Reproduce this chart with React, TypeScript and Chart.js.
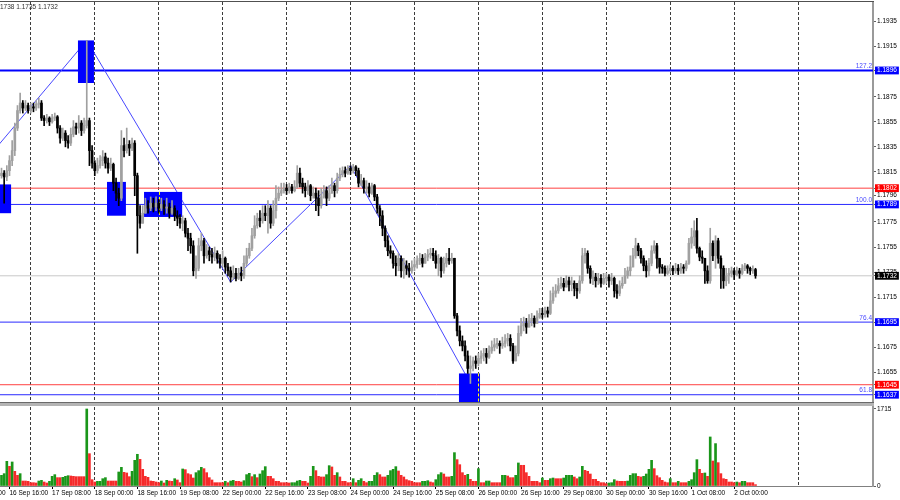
import React, { useEffect, useRef } from 'react';
import { Chart, registerables } from 'chart.js';

Chart.register(...registerables);

// ---------- data (H1 bars, index 0 = 16 Sep 13:00) ----------
const FIRST_OPEN = 1.1812;
const CLOSE = [
  1.1814, 1.1811, 1.1816, 1.1824, 1.1832, 1.1850, 1.1864, 1.1870, 1.1866, 1.1868,
  1.1864, 1.1867, 1.1866, 1.1869, 1.1870, 1.1858, 1.1856, 1.1858, 1.1855, 1.1858,
  1.1859, 1.1850, 1.1842, 1.1846, 1.1840, 1.1838, 1.1845, 1.1851, 1.1850, 1.1854,
  1.1848, 1.1852, 1.1856, 1.1832, 1.1822, 1.1816, 1.1820, 1.1824, 1.1827, 1.1822,
  1.1818, 1.1821, 1.1806, 1.1798, 1.1794, 1.1836, 1.1832, 1.1837, 1.1834, 1.1838,
  1.1812, 1.1780, 1.1774, 1.1782, 1.1788, 1.1786, 1.1790, 1.1787, 1.1790, 1.1786,
  1.1789, 1.1786, 1.1787, 1.1782, 1.1786, 1.1780, 1.1778, 1.1774, 1.1776, 1.1766,
  1.1762, 1.1756, 1.1736, 1.1738, 1.1756, 1.1760, 1.1748, 1.1752, 1.1749, 1.1747,
  1.1750, 1.1746, 1.1742, 1.1746, 1.1739, 1.1736, 1.1731, 1.1734, 1.1730, 1.1734,
  1.1732, 1.1742, 1.1748, 1.1754, 1.1764, 1.1772, 1.1778, 1.1776, 1.1782, 1.1780,
  1.1786, 1.1774, 1.1784, 1.1794, 1.1798, 1.1800, 1.1802, 1.1800, 1.1803, 1.1800,
  1.1803, 1.1814, 1.1806, 1.1803, 1.1800, 1.1804, 1.1796, 1.1798, 1.1794, 1.1788,
  1.1795, 1.1800, 1.1794, 1.1798, 1.1804, 1.1800, 1.1810, 1.1813, 1.1816, 1.1814,
  1.1818, 1.1816, 1.1819, 1.1816, 1.1806, 1.1808, 1.1802, 1.1803, 1.1798, 1.1804,
  1.1795, 1.1786, 1.1780, 1.1770, 1.1760, 1.1752, 1.1750, 1.1742, 1.1740, 1.1746,
  1.1736, 1.1740, 1.1738, 1.1736, 1.1739, 1.1741, 1.1744, 1.1746, 1.1742, 1.1747,
  1.1749, 1.1750, 1.1748, 1.1742, 1.1746, 1.1736, 1.1742, 1.1746, 1.1744, 1.1746,
  1.1700, 1.1688, 1.1680, 1.1676, 1.1668, 1.1658, 1.1660, 1.1664, 1.1662, 1.1666,
  1.1668, 1.1670, 1.1667, 1.1672, 1.1675, 1.1677, 1.1678, 1.1676, 1.1678, 1.1680,
  1.1682, 1.1676, 1.1664, 1.1670, 1.1686, 1.1692, 1.1694, 1.1691, 1.1696, 1.1698,
  1.1694, 1.1699, 1.1702, 1.1701, 1.1704, 1.1702, 1.1712, 1.1718, 1.1720, 1.1724,
  1.1726, 1.1723, 1.1728, 1.1725, 1.1726, 1.1722, 1.1720, 1.1728, 1.1748, 1.1750,
  1.1738, 1.1730, 1.1731, 1.1728, 1.1730, 1.1726, 1.1730, 1.1731, 1.1728, 1.1730,
  1.1720, 1.1718, 1.1724, 1.1726, 1.1732, 1.1736, 1.1739, 1.1748, 1.1756, 1.1752,
  1.1746, 1.1740, 1.1736, 1.1742, 1.1752, 1.1756, 1.1746, 1.1739, 1.1738, 1.1734,
  1.1736, 1.1738, 1.1736, 1.1738, 1.1736, 1.1739, 1.1738, 1.1742, 1.1758, 1.1763,
  1.1768, 1.1754, 1.1747, 1.1746, 1.1736, 1.1728, 1.1758, 1.1748, 1.1760, 1.1746,
  1.1738, 1.1728, 1.1732, 1.1734, 1.1736, 1.1733, 1.1736, 1.1734, 1.1738, 1.1740,
  1.1738, 1.1736, 1.1737, 1.1732,
];
const HIGH = [
  1.1818, 1.1816, 1.1820, 1.1828, 1.1840, 1.1854, 1.1868, 1.1878, 1.1872, 1.1872,
  1.1870, 1.1870, 1.1870, 1.1872, 1.1874, 1.1872, 1.1860, 1.1861, 1.1859, 1.1861,
  1.1862, 1.1860, 1.1852, 1.1850, 1.1848, 1.1844, 1.1850, 1.1856, 1.1854, 1.1860,
  1.1856, 1.1858, 1.1920, 1.1858, 1.1836, 1.1824, 1.1826, 1.1828, 1.1832, 1.1830,
  1.1826, 1.1826, 1.1822, 1.1810, 1.1802, 1.1848, 1.1842, 1.1850, 1.1840, 1.1842,
  1.1840, 1.1814, 1.1788, 1.1788, 1.1794, 1.1792, 1.1795, 1.1794, 1.1795, 1.1793,
  1.1794, 1.1792, 1.1794, 1.1790, 1.1792, 1.1788, 1.1784, 1.1781, 1.1780, 1.1778,
  1.1770, 1.1766, 1.1760, 1.1748, 1.1762, 1.1766, 1.1762, 1.1757, 1.1755, 1.1754,
  1.1755, 1.1752, 1.1749, 1.1752, 1.1747, 1.1742, 1.1739, 1.1740, 1.1738, 1.1738,
  1.1739, 1.1748, 1.1754, 1.1758, 1.1770, 1.1780, 1.1782, 1.1784, 1.1788, 1.1788,
  1.1792, 1.1788, 1.1792, 1.1804, 1.1803, 1.1806, 1.1806, 1.1805, 1.1806, 1.1805,
  1.1808, 1.1820, 1.1818, 1.1810, 1.1806, 1.1808, 1.1805, 1.1803, 1.1802, 1.1800,
  1.1802, 1.1804, 1.1803, 1.1804, 1.1810, 1.1806, 1.1814, 1.1818, 1.1819, 1.1819,
  1.1820, 1.1820, 1.1821, 1.1820, 1.1818, 1.1813, 1.1810, 1.1808, 1.1806, 1.1806,
  1.1805, 1.1797, 1.1788, 1.1784, 1.1772, 1.1764, 1.1756, 1.1752, 1.1748, 1.1750,
  1.1748, 1.1746, 1.1744, 1.1742, 1.1744, 1.1746, 1.1748, 1.1750, 1.1749, 1.1750,
  1.1753, 1.1754, 1.1754, 1.1752, 1.1749, 1.1747, 1.1747, 1.1750, 1.1754, 1.1750,
  1.1746, 1.1702, 1.1692, 1.1684, 1.1680, 1.1672, 1.1668, 1.1667, 1.1668, 1.1670,
  1.1672, 1.1674, 1.1674, 1.1676, 1.1680, 1.1682, 1.1682, 1.1680, 1.1683, 1.1685,
  1.1686, 1.1685, 1.1678, 1.1676, 1.1692, 1.1698, 1.1699, 1.1698, 1.1701, 1.1702,
  1.1700, 1.1704, 1.1706, 1.1706, 1.1707, 1.1707, 1.1720, 1.1723, 1.1725, 1.1730,
  1.1731, 1.1730, 1.1732, 1.1731, 1.1731, 1.1728, 1.1726, 1.1732, 1.1754, 1.1754,
  1.1752, 1.1740, 1.1736, 1.1734, 1.1734, 1.1733, 1.1734, 1.1734, 1.1733, 1.1734,
  1.1731, 1.1725, 1.1728, 1.1731, 1.1738, 1.1739, 1.1748, 1.1754, 1.1762, 1.1758,
  1.1754, 1.1748, 1.1744, 1.1746, 1.1756, 1.1760, 1.1758, 1.1744, 1.1741, 1.1740,
  1.1740, 1.1741, 1.1740, 1.1742, 1.1741, 1.1742, 1.1741, 1.1744, 1.1762, 1.1770,
  1.1776, 1.1778, 1.1755, 1.1752, 1.1746, 1.1740, 1.1770, 1.1760, 1.1764, 1.1762,
  1.1748, 1.1740, 1.1738, 1.1738, 1.1739, 1.1738, 1.1739, 1.1738, 1.1741, 1.1742,
  1.1741, 1.1739, 1.1740, 1.1738,
];
const LOW = [
  1.1810, 1.1790, 1.1808, 1.1812, 1.1820, 1.1828, 1.1848, 1.1862, 1.1862, 1.1864,
  1.1862, 1.1862, 1.1863, 1.1864, 1.1866, 1.1856, 1.1852, 1.1854, 1.1852, 1.1854,
  1.1856, 1.1846, 1.1838, 1.1840, 1.1835, 1.1834, 1.1836, 1.1843, 1.1845, 1.1846,
  1.1844, 1.1846, 1.1850, 1.1820, 1.1818, 1.1812, 1.1814, 1.1818, 1.1820, 1.1818,
  1.1814, 1.1816, 1.1800, 1.1792, 1.1788, 1.1792, 1.1827, 1.1830, 1.1828, 1.1832,
  1.1796, 1.1750, 1.1770, 1.1776, 1.1782, 1.1782, 1.1784, 1.1783, 1.1784, 1.1782,
  1.1784, 1.1781, 1.1782, 1.1778, 1.1781, 1.1776, 1.1772, 1.1770, 1.1768, 1.1763,
  1.1752, 1.1750, 1.1732, 1.1730, 1.1736, 1.1752, 1.1742, 1.1746, 1.1744, 1.1742,
  1.1744, 1.1742, 1.1738, 1.1739, 1.1734, 1.1732, 1.1727, 1.1729, 1.1728, 1.1729,
  1.1728, 1.1730, 1.1740, 1.1746, 1.1752, 1.1762, 1.1770, 1.1771, 1.1774, 1.1776,
  1.1766, 1.1770, 1.1772, 1.1778, 1.1792, 1.1796, 1.1798, 1.1797, 1.1798, 1.1798,
  1.1799, 1.1802, 1.1803, 1.1798, 1.1795, 1.1797, 1.1792, 1.1794, 1.1784, 1.1780,
  1.1786, 1.1794, 1.1788, 1.1792, 1.1798, 1.1795, 1.1798, 1.1808, 1.1811, 1.1811,
  1.1813, 1.1813, 1.1814, 1.1812, 1.1803, 1.1804, 1.1798, 1.1798, 1.1795, 1.1797,
  1.1792, 1.1782, 1.1772, 1.1764, 1.1755, 1.1748, 1.1746, 1.1738, 1.1732, 1.1736,
  1.1731, 1.1730, 1.1733, 1.1731, 1.1734, 1.1736, 1.1738, 1.1741, 1.1739, 1.1742,
  1.1744, 1.1746, 1.1744, 1.1738, 1.1732, 1.1731, 1.1734, 1.1739, 1.1741, 1.1742,
  1.1698, 1.1684, 1.1676, 1.1672, 1.1664, 1.1654, 1.1646, 1.1656, 1.1658, 1.1660,
  1.1662, 1.1664, 1.1662, 1.1666, 1.1670, 1.1672, 1.1674, 1.1670, 1.1674, 1.1675,
  1.1676, 1.1672, 1.1662, 1.1666, 1.1668, 1.1684, 1.1688, 1.1686, 1.1691, 1.1692,
  1.1691, 1.1694, 1.1698, 1.1698, 1.1699, 1.1699, 1.1701, 1.1710, 1.1715, 1.1718,
  1.1722, 1.1720, 1.1723, 1.1720, 1.1720, 1.1716, 1.1714, 1.1718, 1.1726, 1.1742,
  1.1734, 1.1726, 1.1725, 1.1723, 1.1725, 1.1723, 1.1725, 1.1726, 1.1723, 1.1725,
  1.1715, 1.1714, 1.1716, 1.1722, 1.1726, 1.1730, 1.1732, 1.1740, 1.1746, 1.1748,
  1.1742, 1.1736, 1.1731, 1.1732, 1.1740, 1.1750, 1.1738, 1.1734, 1.1734, 1.1732,
  1.1733, 1.1734, 1.1733, 1.1734, 1.1733, 1.1734, 1.1734, 1.1736, 1.1741, 1.1754,
  1.1756, 1.1750, 1.1744, 1.1742, 1.1726, 1.1726, 1.1726, 1.1744, 1.1738, 1.1742,
  1.1722, 1.1722, 1.1724, 1.1726, 1.1731, 1.1729, 1.1732, 1.1730, 1.1733, 1.1736,
  1.1734, 1.1733, 1.1734, 1.1730,
];
const VOLUME = [
  238, 275, 550, 438, 535, 327, 238, 275, 111, 111,
  104, 74, 74, 67, 111, 126, 89, 67, 104, 215,
  253, 186, 186, 193, 215, 230, 223, 215, 208, 208,
  208, 208, 1715, 720, 141, 89, 104, 104, 163, 186,
  111, 111, 111, 111, 312, 416, 305, 290, 208, 327,
  572, 706, 594, 371, 215, 193, 111, 104, 89, 74,
  111, 67, 126, 111, 104, 163, 134, 74, 379, 364,
  275, 253, 178, 297, 342, 416, 386, 297, 186, 134,
  74, 74, 74, 74, 104, 74, 111, 126, 104, 104,
  89, 119, 253, 282, 208, 253, 186, 267, 342, 431,
  215, 215, 163, 104, 104, 74, 74, 74, 67, 74,
  74, 111, 126, 104, 104, 67, 215, 438, 342, 215,
  201, 201, 253, 453, 424, 238, 297, 201, 104, 104,
  74, 74, 163, 74, 126, 163, 104, 74, 104, 104,
  238, 297, 253, 201, 201, 238, 342, 371, 431, 334,
  238, 201, 141, 119, 104, 74, 74, 74, 104, 104,
  119, 89, 74, 141, 253, 297, 267, 201, 201, 215,
  743, 587, 475, 297, 238, 260, 149, 104, 104, 386,
  74, 74, 111, 111, 74, 74, 74, 74, 238, 238,
  223, 186, 186, 238, 513, 461, 461, 297, 215, 104,
  104, 104, 74, 178, 126, 126, 163, 178, 163, 163,
  163, 178, 238, 238, 238, 201, 163, 201, 438, 349,
  327, 267, 149, 149, 104, 74, 74, 52, 67, 74,
  141, 111, 104, 104, 104, 110, 238, 275, 275, 215,
  201, 215, 267, 371, 572, 386, 230, 186, 126, 89,
  74, 163, 74, 74, 104, 74, 74, 74, 104, 141,
  297, 587, 371, 282, 290, 215, 1092, 557, 944, 520,
  275, 163, 149, 89, 89, 74, 89, 74, 104, 104,
  74, 74, 74, 30,
];

// time axis
const LABEL_BARS = [-13, 3, 19, 35, 51, 67, 83, 99, 115, 131, 147, 163, 179, 195, 211, 227, 243, 259, 275];
const LABEL_TEXT = [
  '16 Sep 00:00', '16 Sep 16:00', '17 Sep 08:00', '18 Sep 00:00', '18 Sep 16:00', '19 Sep 08:00',
  '22 Sep 00:00', '22 Sep 16:00', '23 Sep 08:00', '24 Sep 00:00', '24 Sep 16:00', '25 Sep 08:00',
  '26 Sep 00:00', '26 Sep 16:00', '29 Sep 08:00', '30 Sep 00:00', '30 Sep 16:00', '1 Oct 08:00', '2 Oct 00:00',
];
const DAY_BARS = [11, 35, 59, 83, 107, 131, 155, 179, 203, 227, 251, 275, 299];
const X_MIN = -0.563;
const X_MAX = 327.1;

// price axis
const PRICE_MIN = 1.16296;
const PRICE_MAX = 1.19507;
const PRICE_TICKS = [1.1935, 1.1915, 1.1875, 1.1855, 1.1835, 1.1815, 1.1796, 1.1775, 1.1755, 1.1735, 1.1715, 1.1675, 1.1655];
const TAG_VALUES = [1.1896, 1.1802, 1.1789, 1.1732, 1.1695, 1.1645, 1.1637];
const TAG_COLORS = ['#0000ff', '#ff0000', '#0000ff', '#000000', '#0000ff', '#ff0000', '#0000ff'];

// horizontal levels
const LEVELS = [1.1896, 1.1802, 1.1789, 1.1695, 1.1645, 1.1637];
const LEVEL_COLORS = ['#0000ff', '#ff4040', '#2a2aff', '#2a2aff', '#ff4040', '#2a2aff'];
const CURRENT_PRICE = 1.1732;
const FIB_LEVELS = [1.1896, 1.1789, 1.1695, 1.1637];
const FIB_TEXT = ['127.2', '100.0', '76.4', '61.8'];

// zigzag
const ZIGZAG_BARS = [-12, 32, 86, 131, 176];
const ZIGZAG_PRICES = [1.1809, 1.1920, 1.1727, 1.1820, 1.1646];

// rectangles
const BOX_START = [-0.6, 28.7, 39.6, 53.5, 171.7];
const BOX_END = [3.6, 34.7, 46.7, 67.8, 179.6];
const BOX_TOP = [1.1805, 1.1920, 1.1807, 1.1799, 1.1654];
const BOX_BOTTOM = [1.1782, 1.1886, 1.1780, 1.1779, 1.1600];

// volume axis
const VOL_MAX = 1826;
const VOL_TICKS = [0, 1715];

const HEADER = '1738 1.1735 1.1732';

// ---------- styles ----------
const FONT = "'Liberation Sans', Arial, sans-serif";
const FS = 6.5;
const BULL = '#a0a0a0';
const BEAR = '#000000';
const VOL_UP = '#1a961a';
const VOL_DOWN = '#f52a2a';
const WICK_INDEX = LEVELS.length + 2;

export default function App() {
  const ref = useRef<HTMLCanvasElement | null>(null);

  useEffect(() => {
    if (!ref.current) return;
    const idx = CLOSE.map((_, i) => i);
    const open = CLOSE.map((_, i) => (i === 0 ? FIRST_OPEN : CLOSE[i - 1]));
    const hi = idx.map((i) => Math.max(HIGH[i], open[i], CLOSE[i]));
    const lo = idx.map((i) => Math.min(LOW[i], open[i], CLOSE[i]));
    const cColor = idx.map((i) => (CLOSE[i] >= open[i] ? BULL : BEAR));
    const vColor: string[] = [];
    VOLUME.forEach((v, i) => {
      if (i === 0) vColor.push(VOL_UP);
      else if (v > VOLUME[i - 1]) vColor.push(VOL_UP);
      else if (v < VOLUME[i - 1]) vColor.push(VOL_DOWN);
      else vColor.push(vColor[i - 1]);
    });
    const tagColor = new Map<number, string>();
    TAG_VALUES.forEach((v, k) => tagColor.set(v, TAG_COLORS[k]));

    const overlay = {
      id: 'mtOverlay',
      beforeDraw(chart: any) {
        const c = chart.ctx;
        c.save();
        c.fillStyle = '#ffffff';
        c.fillRect(0, 0, chart.width, chart.height);
        c.restore();
      },
      beforeDatasetDraw(chart: any, args: any) {
        if (args.index !== WICK_INDEX) return;
        const c = chart.ctx;
        const xs = chart.scales.x;
        const ys = chart.scales.y;
        c.save();
        c.beginPath();
        c.rect(xs.left, ys.top, xs.right - xs.left, ys.bottom - ys.top);
        c.clip();
        BOX_START.forEach((s, k) => {
          const x0 = xs.getPixelForValue(s);
          const x1 = xs.getPixelForValue(BOX_END[k]);
          const y0 = ys.getPixelForValue(BOX_TOP[k]);
          const y1 = ys.getPixelForValue(BOX_BOTTOM[k]);
          c.fillStyle = '#0000ff';
          c.fillRect(x0, y0, x1 - x0, y1 - y0);
          c.strokeStyle = '#ffff00';
          c.lineWidth = 1;
          c.setLineDash([3, 2]);
          DAY_BARS.forEach((d) => {
            const xp = Math.round(xs.getPixelForValue(d)) + 0.5;
            if (xp > x0 && xp < x1) {
              c.beginPath();
              c.moveTo(xp, y0);
              c.lineTo(xp, y1);
              c.stroke();
            }
          });
          c.setLineDash([]);
        });
        c.restore();
      },
      afterDraw(chart: any) {
        const c = chart.ctx;
        const ys = chart.scales.y;
        const yv = chart.scales.yv;
        const right = chart.chartArea.right;
        c.save();
        // top frame
        c.fillStyle = '#505050';
        c.fillRect(0, chart.chartArea.top - 1, right + 1, 1);
        // panel separator
        c.fillStyle = '#6a6a6a';
        c.fillRect(0, yv.top - 2, right + 1, 1);
        c.fillStyle = '#b4b4b4';
        c.fillRect(0, yv.top - 1, right + 1, 3);
        // fib labels
        c.font = `${FS}px ${FONT}`;
        c.fillStyle = '#4a4aff';
        c.textAlign = 'right';
        c.textBaseline = 'bottom';
        FIB_LEVELS.forEach((v, k) => {
          c.fillText(FIB_TEXT[k], right - 1, ys.getPixelForValue(v) - 1);
        });
        // header
        c.fillStyle = '#303030';
        c.textAlign = 'left';
        c.textBaseline = 'middle';
        c.fillText(HEADER, 0, 7);
        c.restore();
      },
    };

    const lineBase = { type: 'line', pointRadius: 0, xAxisID: 'x', yAxisID: 'y', tension: 0 };

    const chart = new Chart(ref.current, {
      type: 'bar',
      data: {
        datasets: [
          ...LEVELS.map((v, k) => ({
            ...lineBase,
            data: [{ x: X_MIN, y: v }, { x: X_MAX, y: v }],
            borderColor: LEVEL_COLORS[k],
            borderWidth: k === 0 ? 2 : 1,
            order: 10,
          })),
          {
            ...lineBase,
            data: [{ x: X_MIN, y: CURRENT_PRICE }, { x: X_MAX, y: CURRENT_PRICE }],
            borderColor: '#c8c8c8',
            borderWidth: 1,
            order: 11,
          },
          {
            ...lineBase,
            data: ZIGZAG_BARS.map((b, k) => ({ x: b, y: ZIGZAG_PRICES[k] })),
            borderColor: '#4848ff',
            borderWidth: 1,
            order: 9,
          },
          {
            type: 'bar',
            data: idx.map((i) => ({ x: i, y: [lo[i], hi[i]] })),
            backgroundColor: cColor,
            barThickness: 1,
            grouped: false,
            borderWidth: 0,
            xAxisID: 'x',
            yAxisID: 'y',
            order: 5,
          },
          {
            type: 'bar',
            data: idx.map((i) => ({ x: i, y: [open[i], CLOSE[i]] })),
            backgroundColor: cColor,
            barThickness: 2,
            minBarLength: 1,
            grouped: false,
            borderWidth: 0,
            xAxisID: 'x',
            yAxisID: 'y',
            order: 4,
          },
          {
            type: 'bar',
            data: idx.map((i) => ({ x: i, y: VOLUME[i] })),
            backgroundColor: vColor,
            barThickness: 2,
            grouped: false,
            borderWidth: 0,
            xAxisID: 'x',
            yAxisID: 'yv',
            order: 3,
          },
        ] as any,
      },
      options: {
        animation: false,
        responsive: false,
        devicePixelRatio: 1,
        events: [],
        layout: { padding: { top: 2, left: 0, right: 0, bottom: 0 } },
        plugins: { legend: { display: false }, tooltip: { enabled: false } },
        scales: {
          x: {
            type: 'linear',
            position: 'bottom',
            min: X_MIN,
            max: X_MAX,
            offset: false,
            afterBuildTicks: (s: any) => {
              s.ticks = LABEL_BARS.map((v) => ({ value: v }));
            },
            afterFit: (s: any) => {
              s.height = 14;
              s.paddingLeft = 0;
              s.paddingRight = 0;
            },
            ticks: {
              autoSkip: false,
              maxRotation: 0,
              minRotation: 0,
              align: 'start',
              padding: 0,
              color: '#000000',
              font: { family: FONT, size: FS },
              callback: (v: any) => {
                const k = LABEL_BARS.indexOf(Number(v));
                return k >= 0 ? LABEL_TEXT[k] : '';
              },
            },
            grid: { display: true, drawOnChartArea: false, drawTicks: true, tickLength: 3, tickColor: '#000000', offset: false },
            border: { display: true, color: '#808080', width: 1 },
          },
          xg: {
            type: 'linear',
            position: 'bottom',
            min: X_MIN,
            max: X_MAX,
            offset: false,
            afterBuildTicks: (s: any) => {
              s.ticks = DAY_BARS.map((v) => ({ value: v }));
            },
            afterFit: (s: any) => {
              s.height = 0;
              s.paddingLeft = 0;
              s.paddingRight = 0;
            },
            ticks: { display: false },
            grid: { display: true, drawOnChartArea: true, drawTicks: false, color: '#3c3c3c', lineWidth: 1, offset: false },
            border: { display: false, dash: [3, 2] },
          },
          y: {
            type: 'linear',
            position: 'right',
            stack: 'panels',
            stackWeight: 402,
            min: PRICE_MIN,
            max: PRICE_MAX,
            beginAtZero: false,
            afterBuildTicks: (s: any) => {
              s.ticks = [...PRICE_TICKS, ...TAG_VALUES].map((v) => ({ value: v }));
            },
            afterFit: (s: any) => {
              s.width = 27;
              s.paddingTop = 0;
              s.paddingBottom = 0;
            },
            ticks: {
              autoSkip: false,
              padding: 1,
              font: { family: FONT, size: FS },
              color: (ctx: any) => (tagColor.has(ctx.tick?.value) ? '#ffffff' : '#000000'),
              showLabelBackdrop: (ctx: any) => tagColor.has(ctx.tick?.value),
              backdropColor: (ctx: any) => tagColor.get(ctx.tick?.value) || 'rgba(0,0,0,0)',
              backdropPadding: { x: 2, y: 0 },
              callback: (v: any) => Number(v).toFixed(4),
            },
            grid: { display: true, drawOnChartArea: false, drawTicks: true, tickLength: 3, tickColor: '#606060' },
            border: { display: true, color: '#9a9a9a', width: 2 },
          },
          yv: {
            type: 'linear',
            position: 'right',
            stack: 'panels',
            stackWeight: 82,
            min: 0,
            max: VOL_MAX,
            beginAtZero: false,
            afterBuildTicks: (s: any) => {
              s.ticks = VOL_TICKS.map((v) => ({ value: v }));
            },
            afterFit: (s: any) => {
              s.width = 27;
              s.paddingTop = 0;
              s.paddingBottom = 0;
            },
            ticks: {
              autoSkip: false,
              padding: 1,
              color: '#000000',
              font: { family: FONT, size: FS },
              callback: (v: any) => String(v),
            },
            grid: { display: true, drawOnChartArea: false, drawTicks: true, tickLength: 3, tickColor: '#606060' },
            border: { display: true, color: '#9a9a9a', width: 2 },
          },
        } as any,
      },
      plugins: [overlay as any],
    } as any);

    return () => chart.destroy();
  }, []);

  return (
    <div style={{ position: 'absolute', left: 0, top: 0, width: 900, height: 500, background: '#fff' }}>
      <canvas ref={ref} width={900} height={500} style={{ display: 'block' }} />
    </div>
  );
}
